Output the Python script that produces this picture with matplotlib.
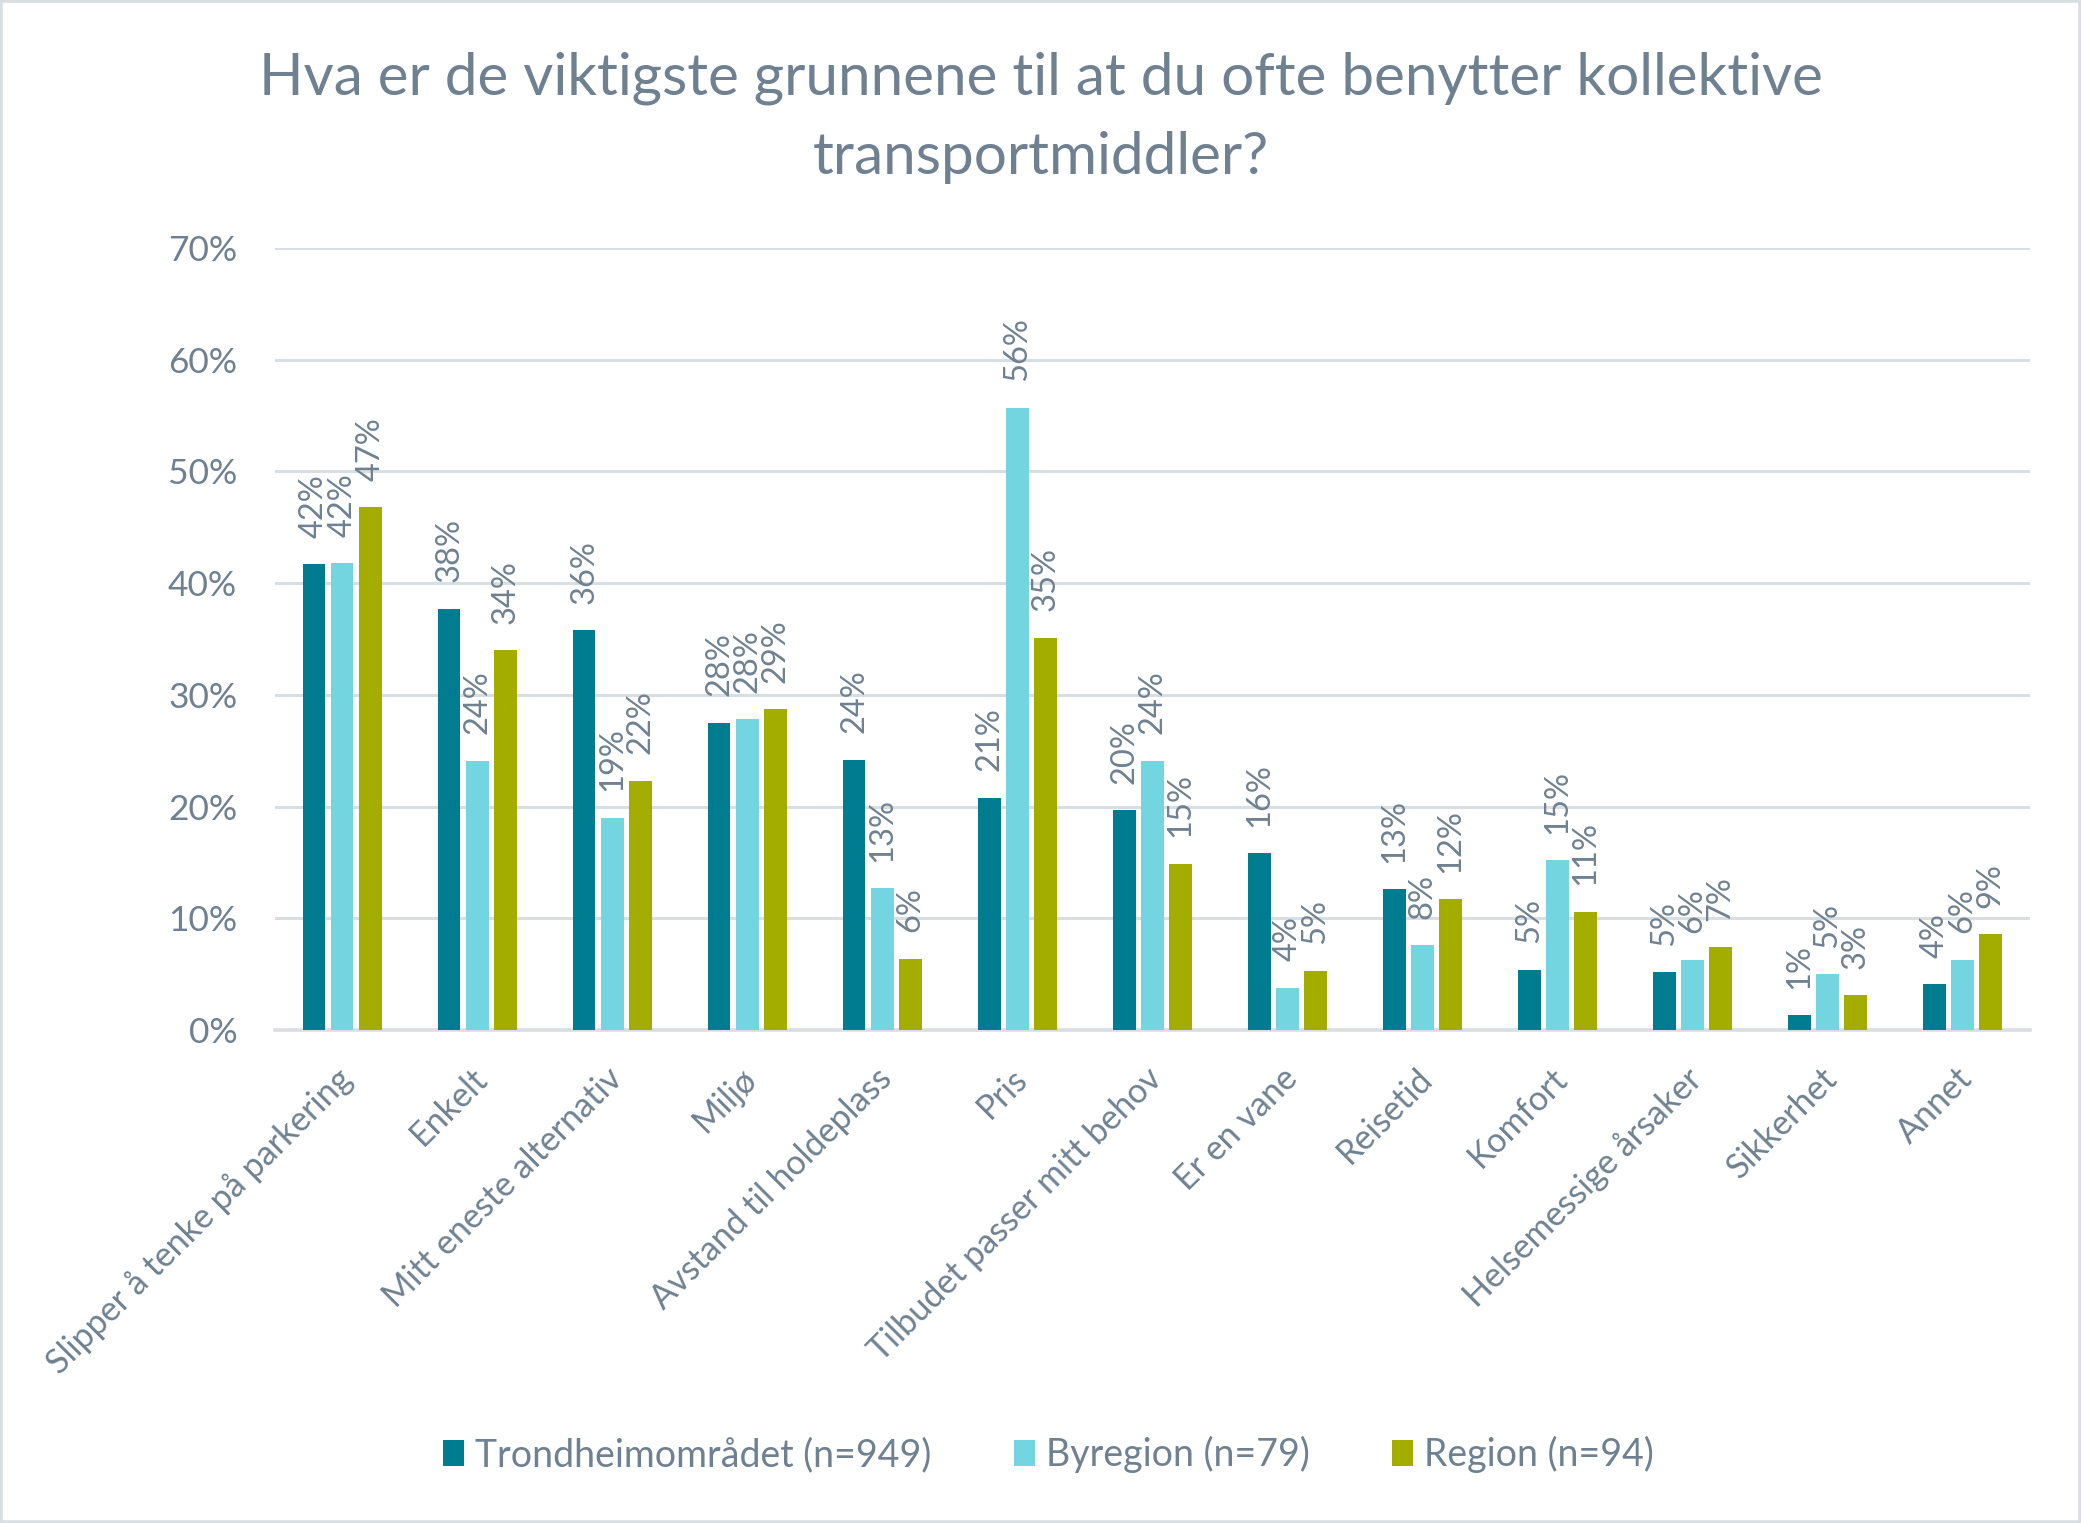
import numpy as np
import matplotlib
matplotlib.use("Agg")
import matplotlib.pyplot as plt
from matplotlib.patches import Rectangle

# data (percent)
categories = ["Slipper å tenke på parkering", "Enkelt", "Mitt eneste alternativ",
              "Miljø", "Avstand til holdeplass", "Pris", "Tilbudet passer mitt behov",
              "Er en vane", "Reisetid", "Komfort", "Helsemessige årsaker",
              "Sikkerhet", "Annet"]
trondheim = [41.7, 37.7, 35.8, 27.5, 24.2, 20.8, 19.7, 15.8, 12.6, 5.4, 5.2, 1.3, 4.1]
byregion = [41.8, 24.1, 19.0, 27.8, 12.7, 55.7, 24.1, 3.8, 7.6, 15.2, 6.3, 5.0, 6.3]
region = [46.8, 34.0, 22.3, 28.7, 6.4, 35.1, 14.9, 5.3, 11.7, 10.6, 7.4, 3.1, 8.6]
series_names = ["Trondheimområdet (n=949)", "Byregion (n=79)", "Region (n=94)"]
colors = ["#007C91", "#72D5E0", "#A3AD00"]

txt = "#6F8190"
grid = "#D9DEE3"
font = "Lato"

fig = plt.figure(figsize=(20.81, 15.23), dpi=100)
fig.patches.append(Rectangle((0, 0), 1, 1, transform=fig.transFigure, fill=False,
                             edgecolor=grid, linewidth=4))

ax = fig.add_axes([0.132, 0.3237, 0.8435, 0.5135])
x = np.arange(len(categories))
step = 0.208
width = 0.167

for i, (vals, name, c) in enumerate(zip([trondheim, byregion, region], series_names, colors)):
    pos = x + (i - 1) * step
    bars = ax.bar(pos, np.array(vals) / 100, width=width, color=c, label=name, zorder=3)
    for b, v in zip(bars, vals):
        ax.annotate(f"{round(v):d}%", (b.get_x() + b.get_width() / 2, b.get_height()),
                    xytext=(0, 19), textcoords="offset points", rotation=90,
                    ha="center", va="bottom", fontsize=23.5, color=txt, family=font)

ax.set_xlim(-0.5, len(categories) - 0.5)
ax.set_ylim(0, 0.7)
ax.set_yticks(np.arange(0, 0.71, 0.1))
ax.set_yticklabels([f"{int(round(t * 100))}%" for t in np.arange(0, 0.71, 0.1)],
                   fontsize=25.5, color=txt, family=font)
ax.tick_params(axis="y", length=0, pad=27)
ax.tick_params(axis="x", length=0)
ax.grid(axis="y", color=grid, linewidth=2.2, zorder=0)
for s in ["top", "right", "left"]:
    ax.spines[s].set_visible(False)
ax.spines["bottom"].set_color(grid)
ax.spines["bottom"].set_linewidth(2.6)

ax.set_xticks(x)
ax.set_xticklabels([])
for xi, lab in zip(x, categories):
    ax.text(xi + 0.035, -0.056, lab, rotation=45, rotation_mode="anchor",
            ha="right", va="center", fontsize=24.5, color=txt, family=font,
            transform=ax.get_xaxis_transform())

fig.text(0.5, 0.966, "Hva er de viktigste grunnene til at du ofte benytter kollektive\ntransportmiddler?",
         ha="center", va="top", fontsize=42, color=txt, family=font, linespacing=1.6)

leg = fig.legend(loc="center", bbox_to_anchor=(0.504, 0.045), ncol=3, frameon=False,
                 prop={"family": font, "size": 27}, handlelength=0.55, handleheight=0.7,
                 handletextpad=0.3, columnspacing=2.2)
for t in leg.get_texts():
    t.set_color(txt)

fig.savefig("out.png", dpi=100)
